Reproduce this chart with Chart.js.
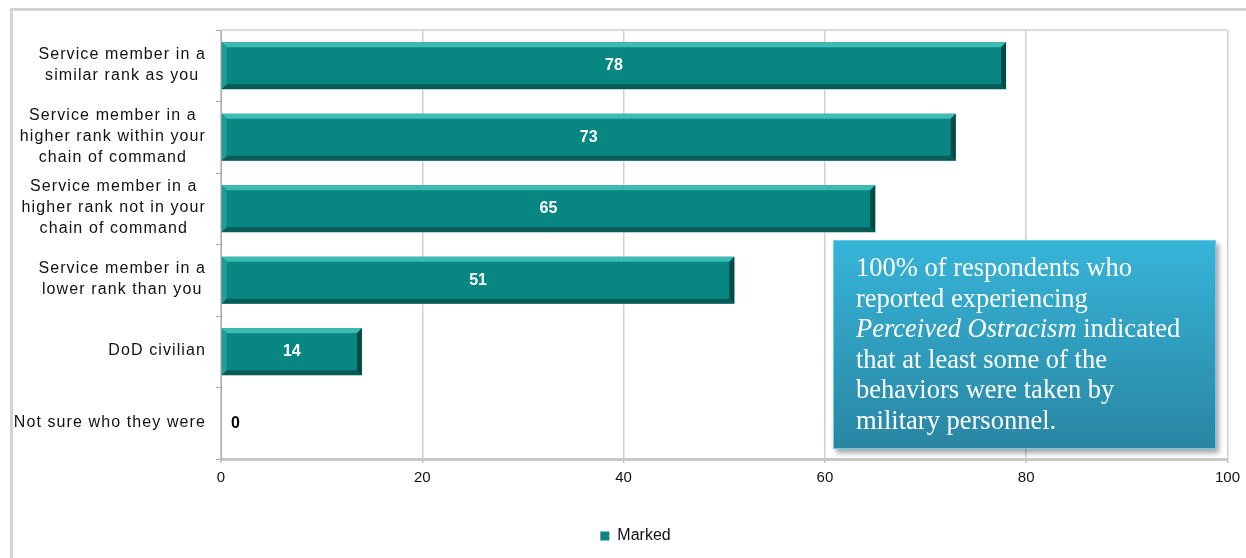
<!DOCTYPE html>
<html>
<head>
<meta charset="utf-8">
<script src="https://cdn.jsdelivr.net/npm/chart.js@4.4.1/dist/chart.umd.min.js"></script>
<style>
  html, body { margin: 0; padding: 0; background: #fff; }
  #wrap { position: relative; width: 1246px; height: 558px; overflow: hidden; }
  #frame { position: absolute; left: 10px; top: 8px; width: 1260px; height: 600px;
           border: 3px solid #d3d3d3; box-sizing: border-box; }
  canvas { position: absolute; left: 0; top: 0; }
  #callout { position: absolute; left: 833px; top: 240px; width: 383px; height: 209px;
             box-sizing: border-box; padding: 11px 6px 0 22px;
             background: linear-gradient(#37b4d8, #2986a3);
             border: 1px solid #6ccbe6;
             box-shadow: 3px 4px 5px rgba(0,0,0,0.35);
             color: #fff; font-family: "Liberation Serif", "Times New Roman", serif;
             font-size: 26.5px; line-height: 30.6px; white-space: nowrap; }
</style>
</head>
<body>
<div id="wrap">
  <div id="frame"></div>
  <canvas id="chart" width="1246" height="558"></canvas>
  <div id="callout">100% of respondents who<br>reported experiencing<br><i>Perceived Ostracism</i> indicated<br>that at least some of the<br>behaviors were taken by<br>military personnel.</div>
</div>
<script>
const categories = [
    ['Service member in a', 'similar rank as you'],
    ['Service member in a', 'higher rank within your', 'chain of command'],
    ['Service member in a', 'higher rank not in your', 'chain of command'],
    ['Service member in a', 'lower rank than you'],
    ['DoD civilian'],
    ['Not sure who they were']
];
const markedValues = [78, 73, 65, 51, 14, 0];
const xMin = 0;
const xMax = 100;
const xStep = 20;

const barColor = '#088782';

// bevelled bars, value labels, category labels and plot top border
const decorPlugin = {
    id: 'decor',
    afterDatasetsDraw(chart) {
        const ctx = chart.ctx;
        const meta = chart.getDatasetMeta(0);
        const area = chart.chartArea;
        meta.data.forEach((bar, i) => {
            const p = bar.getProps(['x', 'y', 'base', 'height'], true);
            const l = Math.min(p.base, p.x), r = Math.max(p.base, p.x);
            const t = p.y - p.height / 2, b = p.y + p.height / 2;
            const w = r - l;
            const bv = Math.min(5, w / 2);
            if (w > 1) {
                ctx.save();
                const poly = (pts, col) => {
                    ctx.beginPath();
                    ctx.moveTo(pts[0][0], pts[0][1]);
                    for (let k = 1; k < pts.length; k++) ctx.lineTo(pts[k][0], pts[k][1]);
                    ctx.closePath();
                    ctx.fillStyle = col;
                    ctx.fill();
                };
                poly([[l, t], [r, t], [r - bv, t + bv], [l + bv, t + bv]], '#3dbcb4');
                poly([[l, t], [l + bv, t + bv], [l + bv, b - bv], [l, b]], '#1c9e97');
                poly([[l, b], [l + bv, b - bv], [r - bv, b - bv], [r, b]], '#0a5b58');
                poly([[r, t], [r, b], [r - bv, b - bv], [r - bv, t + bv]], '#064a47');
                ctx.strokeStyle = 'rgba(255,255,255,0.5)';
                ctx.lineWidth = 1;
                ctx.beginPath();
                ctx.moveTo(l, b + 0.5);
                ctx.lineTo(r, b + 0.5);
                ctx.stroke();
                ctx.restore();
            }
            // value label
            ctx.save();
            ctx.font = 'bold 16px "Liberation Sans", Arial, sans-serif';
            ctx.textBaseline = 'middle';
            if (markedValues[i] > 0) {
                ctx.fillStyle = '#ffffff';
                ctx.textAlign = 'center';
                ctx.fillText(String(markedValues[i]), (l + r) / 2, p.y);
            } else {
                ctx.fillStyle = '#000000';
                ctx.textAlign = 'left';
                ctx.fillText(String(markedValues[i]), r + 10, p.y);
            }
            ctx.restore();
        });

        // plot top border
        ctx.save();
        ctx.strokeStyle = '#d0d0d0';
        ctx.lineWidth = 1.5;
        ctx.beginPath();
        ctx.moveTo(area.left, area.top);
        ctx.lineTo(area.right, area.top);
        ctx.stroke();
        ctx.restore();
    },
    afterDraw(chart) {
        const ctx = chart.ctx;
        const yScale = chart.scales.y;
        const lh = 21;
        ctx.save();
        ctx.font = '16px "Liberation Sans", Arial, sans-serif';
        ctx.letterSpacing = '1.1px';
        ctx.fillStyle = '#111';
        ctx.textAlign = 'center';
        ctx.textBaseline = 'middle';
        categories.forEach((lines, i) => {
            const cy = yScale.getPixelForTick(i);
            const maxW = Math.max(...lines.map(s => ctx.measureText(s).width));
            const cx = yScale.right - 15 - maxW / 2;
            const y0 = cy - (lines.length - 1) * lh / 2 - 1;
            lines.forEach((s, k) => ctx.fillText(s, cx, y0 + k * lh));
        });
        ctx.restore();
    }
};

new Chart(document.getElementById('chart'), {
    type: 'bar',
    data: {
        labels: categories,
        datasets: [{
            label: 'Marked',
            data: markedValues,
            backgroundColor: barColor,
            borderWidth: 0,
            barPercentage: 0.66,
            categoryPercentage: 1.0
        }]
    },
    options: {
        indexAxis: 'y',
        responsive: false,
        animation: false,
        layout: { padding: { left: 40, right: 15, top: 30, bottom: 4 } },
        plugins: {
            tooltip: { enabled: false },
            legend: {
                position: 'bottom',
                labels: {
                    boxWidth: 9,
                    boxHeight: 9,
                    padding: 12,
                    color: '#111',
                    font: { family: '"Liberation Sans", Arial, sans-serif', size: 16 }
                }
            }
        },
        scales: {
            x: {
                min: xMin,
                max: xMax,
                ticks: {
                    stepSize: xStep,
                    padding: 6,
                    color: '#111',
                    font: { family: '"Liberation Sans", Arial, sans-serif', size: 15 }
                },
                grid: { color: '#d0d0d0', lineWidth: 1.5, tickLength: 4, tickColor: '#bdbdbd' },
                border: { color: '#c8c8c8', width: 3 },
                afterFit(scale) { scale.height = 57; }
            },
            y: {
                ticks: { display: false },
                grid: { drawOnChartArea: false, tickLength: 5, color: '#a8a8a8' },
                border: { color: '#a8a8a8', width: 1 },
                afterFit(scale) { scale.width = 181; }
            }
        }
    },
    plugins: [decorPlugin]
});
</script>
</body>
</html>
